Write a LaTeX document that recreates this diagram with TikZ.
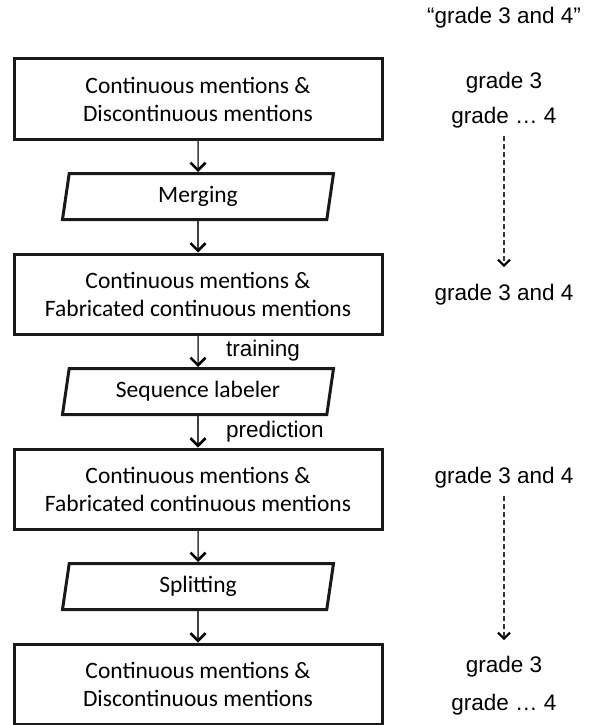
\documentclass[tikz,border=0pt]{standalone}
\usepackage{fontspec}
\setmainfont{Carlito}
\newfontfamily\labelfont{Liberation Sans}
\usetikzlibrary{shapes.geometric,arrows.meta,positioning}

\begin{document}
\begin{tikzpicture}[
    x=1pt, y=1pt,
    node distance=97.5pt,
    box/.style={rectangle, draw=black!90, line width=3pt, minimum width=368pt, minimum height=80pt, align=center, font=\fontsize{23.5}{28}\selectfont},
    io/.style={trapezium, trapezium left angle=76, trapezium right angle=104, trapezium stretches body, draw=black!90, line width=3pt, minimum width=271pt, minimum height=46pt, font=\fontsize{23.5}{28}\selectfont},
    note/.style={font=\labelfont\fontsize{22.5}{27}\selectfont, text height=16pt, text depth=4.7pt},
    arrow/.style={-{Straight Barb[length=7.5pt, width=15pt, line width=2.6pt, color=black]}, line width=1.5pt, draw=black!75},
    dasharrow/.style={-{Straight Barb[length=6pt, width=12pt, line width=2.2pt, color=black]}, line width=1.2pt, draw=black!80, dash pattern=on 5pt off 3pt}
]
    \useasboundingbox (0,0) rectangle (595,-725);

    % Input mentions
    \node[box] (box1) at (198,-99) {Continuous mentions \&\\ Discontinuous mentions};

    % Merging
    \node[io, below of=box1] (merge) {Merging};

    % Merged mentions
    \node[box, below of=merge] (box2) {Continuous mentions \&\\ Fabricated continuous mentions};

    % Sequence labeler
    \node[io, below of=box2] (seq) {Sequence labeler};

    % Predicted mentions
    \node[box, below of=seq] (box3) {Continuous mentions \&\\ Fabricated continuous mentions};

    % Splitting
    \node[io, below of=box3] (split) {Splitting};

    % Output mentions
    \node[box, below of=split] (box4) {Continuous mentions \&\\ Discontinuous mentions};

    % Example
    \node[note] (quote) at (504,-18) {“grade 3 and 4”};
    \node[note] (g1a) at (504,-83) {grade 3};
    \node[note] (g1b) at (504,-118) {grade … 4};
    \node[note] (g2) at (504,-295) {grade 3 and 4};
    \node[note] (g3) at (504,-478) {grade 3 and 4};
    \node[note] (g4a) at (504,-667) {grade 3};
    \node[note] (g4b) at (504,-705) {grade … 4};

    % Arrows
    \draw[arrow] (box1) -- (merge);
    \draw[arrow] (merge) -- (box2);
    \draw[arrow] (box2) -- node[note, right=24pt] {training} (seq);
    \draw[arrow] (seq) -- node[note, right=24pt] {prediction} (box3);
    \draw[arrow] (box3) -- (split);
    \draw[arrow] (split) -- (box4);
    \draw[dasharrow, shorten <=4pt, shorten >=14pt] (g1b) -- (g2);
    \draw[dasharrow, shorten <=4pt, shorten >=13pt] (g3) -- (g4a);

\end{tikzpicture}
\end{document}
